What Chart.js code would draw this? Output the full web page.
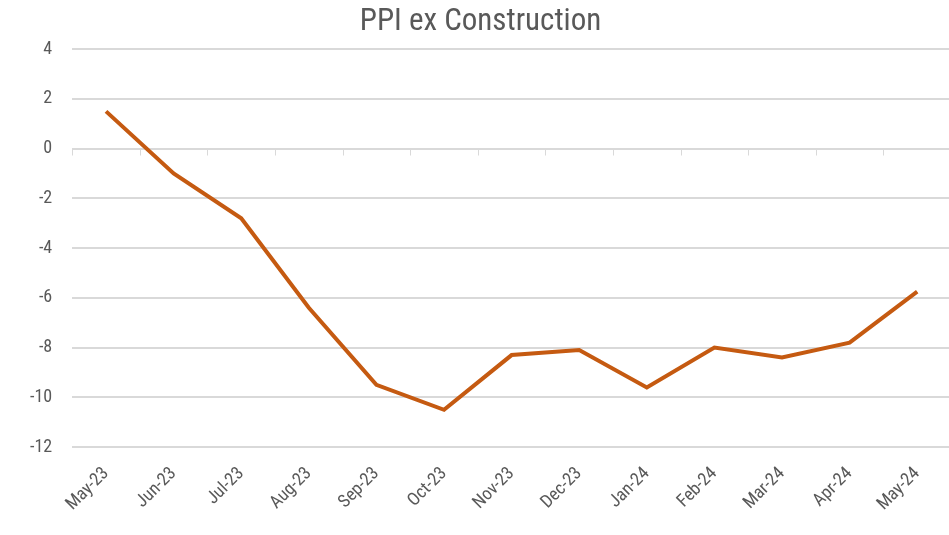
<!DOCTYPE html>
<html>
<head>
<meta charset="utf-8">
<script src="https://cdn.jsdelivr.net/npm/chart.js@4.4.0/dist/chart.umd.min.js"></script>
<style>
  html, body { margin: 0; padding: 0; background: #fff; overflow: hidden; }
  #wrap { width: 986px; height: 535px; }
</style>
</head>
<body>
<div id="wrap"><canvas id="chart" width="986" height="535"></canvas></div>
<script>
const months = ["May-23", "Jun-23", "Jul-23", "Aug-23", "Sep-23", "Oct-23", "Nov-23",
  "Dec-23", "Jan-24", "Feb-24", "Mar-24", "Apr-24", "May-24"];
const ppiExConstruction = [1.5, -1.0, -2.8, -6.4, -9.5, -10.5, -8.3, -8.1, -9.6, -8.0, -8.4, -7.8, -5.75];
const yTicks = [4, 2, 0, -2, -4, -6, -8, -10, -12];

const FONT = "'Liberation Sans Narrow', 'Roboto Condensed', Roboto, sans-serif";
const TEXT = "#595959";
const GRID = "#d9d9d9";

// Excel draws the category axis through zero with small tick marks
const zeroAxis = {
  id: "zeroAxis",
  beforeDatasetsDraw(chart) {
    const { ctx, chartArea, scales } = chart;
    const y0 = Math.round(scales.y.getPixelForValue(0)) + 0.5;
    const n = months.length;
    const step = (chartArea.right - chartArea.left) / n;
    ctx.save();
    ctx.strokeStyle = GRID;
    ctx.lineWidth = 1;
    ctx.beginPath();
    ctx.moveTo(chartArea.left, y0);
    ctx.lineTo(chartArea.right, y0);
    for (let i = 0; i <= n; i++) {
      const x = Math.round(chartArea.left + i * step) + 0.5;
      ctx.moveTo(x, y0);
      ctx.lineTo(x, y0 + 6);
    }
    ctx.stroke();
    ctx.restore();
  }
};

new Chart(document.getElementById("chart"), {
  type: "line",
  data: {
    labels: months,
    datasets: [{
      label: "PPI ex Construction",
      data: ppiExConstruction,
      borderColor: "#C55A11",
      borderWidth: 4,
      pointRadius: 0,
      tension: 0,
      fill: false
    }]
  },
  options: {
    responsive: false,
    animation: false,
    layout: { padding: { top: 4, right: 35, bottom: 12, left: 10 } },
    plugins: {
      legend: { display: false },
      tooltip: { enabled: false },
      title: {
        display: true,
        text: "PPI ex Construction",
        color: TEXT,
        font: { family: FONT, size: 31, weight: "normal" },
        padding: { top: 0, bottom: 8 }
      }
    },
    scales: {
      x: {
        offset: true,
        grid: { display: false },
        border: { display: false },
        ticks: {
          color: TEXT,
          font: { family: FONT, size: 18 },
          maxRotation: 45,
          minRotation: 45,
          autoSkip: false,
          padding: 8
        }
      },
      y: {
        min: -12,
        max: 4,
        afterBuildTicks(axis) {
          axis.ticks = yTicks.map(v => ({ value: v }));
        },
        grid: { color: GRID, lineWidth: 2, drawTicks: false },
        border: { display: false },
        ticks: {
          color: TEXT,
          font: { family: FONT, size: 18 },
          padding: 20
        }
      }
    }
  },
  plugins: [zeroAxis]
});
</script>
</body>
</html>
